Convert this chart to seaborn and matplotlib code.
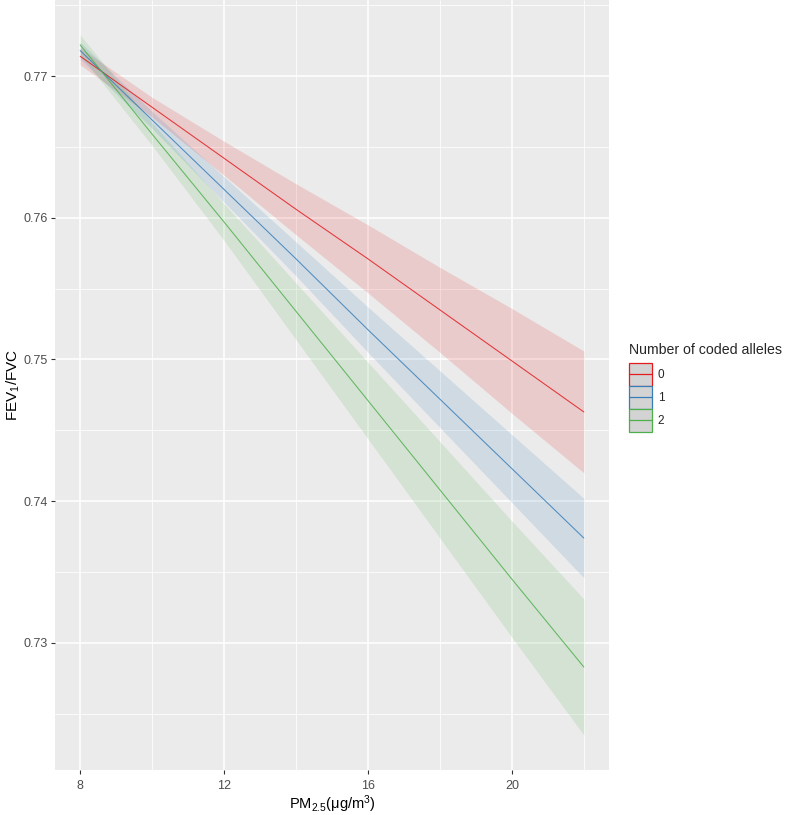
import numpy as np
import pandas as pd
import matplotlib
matplotlib.use("Agg")
import matplotlib.pyplot as plt
from matplotlib.patches import Rectangle
from matplotlib.lines import Line2D
from matplotlib.legend_handler import HandlerBase
import seaborn as sns

# Values
pm25 = [8, 10, 12, 14, 16, 18, 20, 22]
alleles = ["0", "1", "2"]

fit_0 = [0.7714, 0.7678, 0.7642, 0.7606, 0.7571, 0.7535, 0.7499, 0.7463]
fit_1 = [0.7718, 0.7669, 0.7620, 0.7571, 0.7521, 0.7472, 0.7423, 0.7374]
fit_2 = [0.7722, 0.7659, 0.7597, 0.7534, 0.7471, 0.7408, 0.7345, 0.7283]

lower_0 = [0.7708, 0.7671, 0.7630, 0.7588, 0.7547, 0.7505, 0.7462, 0.7420]
upper_0 = [0.7720, 0.7685, 0.7654, 0.7624, 0.7595, 0.7565, 0.7536, 0.7506]
lower_1 = [0.7712, 0.7663, 0.7611, 0.7559, 0.7505, 0.7452, 0.7399, 0.7346]
upper_1 = [0.7724, 0.7675, 0.7629, 0.7583, 0.7537, 0.7492, 0.7447, 0.7402]
lower_2 = [0.7715, 0.7651, 0.7584, 0.7514, 0.7444, 0.7374, 0.7304, 0.7235]
upper_2 = [0.7729, 0.7667, 0.7610, 0.7554, 0.7498, 0.7442, 0.7386, 0.7331]

colors = ["#E41A1C", "#377EB8", "#4DAF4A"]

fits = [fit_0, fit_1, fit_2]
lowers = [lower_0, lower_1, lower_2]
uppers = [upper_0, upper_1, upper_2]

df = pd.concat([
    pd.DataFrame({"pm25": pm25, "fit": f, "lower": lo, "upper": up, "alleles": a})
    for a, f, lo, up in zip(alleles, fits, lowers, uppers)
], ignore_index=True)


class KeyHandler(HandlerBase):
    # ggplot-style key: grey box with coloured outline and a line through the middle
    def create_artists(self, legend, orig_handle, xdescent, ydescent,
                       width, height, fontsize, trans):
        c = orig_handle.get_color()
        box = Rectangle((-xdescent, -ydescent), width, height, facecolor="#D3D3D3",
                        edgecolor=c, linewidth=0.9, transform=trans)
        mid = -ydescent + height / 2
        line = Line2D([-xdescent, -xdescent + width], [mid, mid], color=c,
                      linewidth=0.9, transform=trans)
        return [box, line]


sns.set_theme(style="darkgrid", rc={
    "axes.facecolor": "#EBEBEB",
    "grid.color": "white",
    "axes.edgecolor": "white",
})
plt.rcParams["font.family"] = ["Liberation Sans", "DejaVu Sans"]
plt.rcParams["mathtext.fontset"] = "custom"
plt.rcParams["mathtext.rm"] = "Liberation Sans"
plt.rcParams["mathtext.it"] = "Liberation Sans"

fig = plt.figure(figsize=(7.87, 8.15), dpi=100)
ax = fig.add_axes([55 / 787, 1 - 770 / 815, (609 - 55) / 787, 770 / 815])

# confidence ribbons
for a, c in zip(alleles, colors):
    sub = df[df["alleles"] == a]
    ax.fill_between(sub["pm25"], sub["lower"], sub["upper"], color=c, alpha=0.15, lw=0, zorder=2)

sns.lineplot(data=df, x="pm25", y="fit", hue="alleles", palette=colors,
             linewidth=0.75, alpha=0.85, legend=False, ax=ax, zorder=3)

# ggplot-like limits with 5% expansion
xlo, xhi = min(pm25), max(pm25)
ylo, yhi = df["lower"].min(), df["upper"].max()
ax.set_xlim(xlo - 0.05 * (xhi - xlo), xhi + 0.05 * (xhi - xlo))
ax.set_ylim(ylo - 0.05 * (yhi - ylo), yhi + 0.05 * (yhi - ylo))

ax.set_xticks([8, 12, 16, 20])
ax.set_xticks([10, 14, 18, 22], minor=True)
ax.set_yticks([0.73, 0.74, 0.75, 0.76, 0.77])
ax.set_yticks([0.725, 0.735, 0.745, 0.755, 0.765, 0.775], minor=True)
ax.set_yticklabels(["0.73", "0.74", "0.75", "0.76", "0.77"])
ax.grid(which="major", color="white", linewidth=1.1)
ax.grid(which="minor", color="white", linewidth=0.55)
for s in ax.spines.values():
    s.set_visible(False)

ax.tick_params(axis="both", which="major", length=3, width=0.8, color="#333333",
               labelsize=9, labelcolor="#4D4D4D", bottom=True, left=True)
ax.tick_params(axis="x", which="major", pad=4)
ax.tick_params(axis="y", which="major", pad=2)
ax.tick_params(axis="both", which="minor", length=0)

ax.set_xlabel(r"PM$_{2.5}$(μg/m$^3$)", fontsize=10.5, color="black", labelpad=1)
ax.set_ylabel(r"FEV$_1$/FVC", fontsize=11, color="black", labelpad=1)

handles = [Line2D([], [], color=c) for c in colors]
leg = fig.legend(handles, alleles, title="Number of coded alleles",
                 handler_map={Line2D: KeyHandler()},
                 loc="upper left", bbox_to_anchor=(621 / 787, 1 - 335 / 815),
                 frameon=False, fontsize=8.5, title_fontsize=10.2,
                 handlelength=1.95, handleheight=2.62, labelspacing=0.0,
                 handletextpad=0.45, borderpad=0.2, alignment="left")
leg._legend_box.sep = 4

fig.savefig("out.png", dpi=100)
